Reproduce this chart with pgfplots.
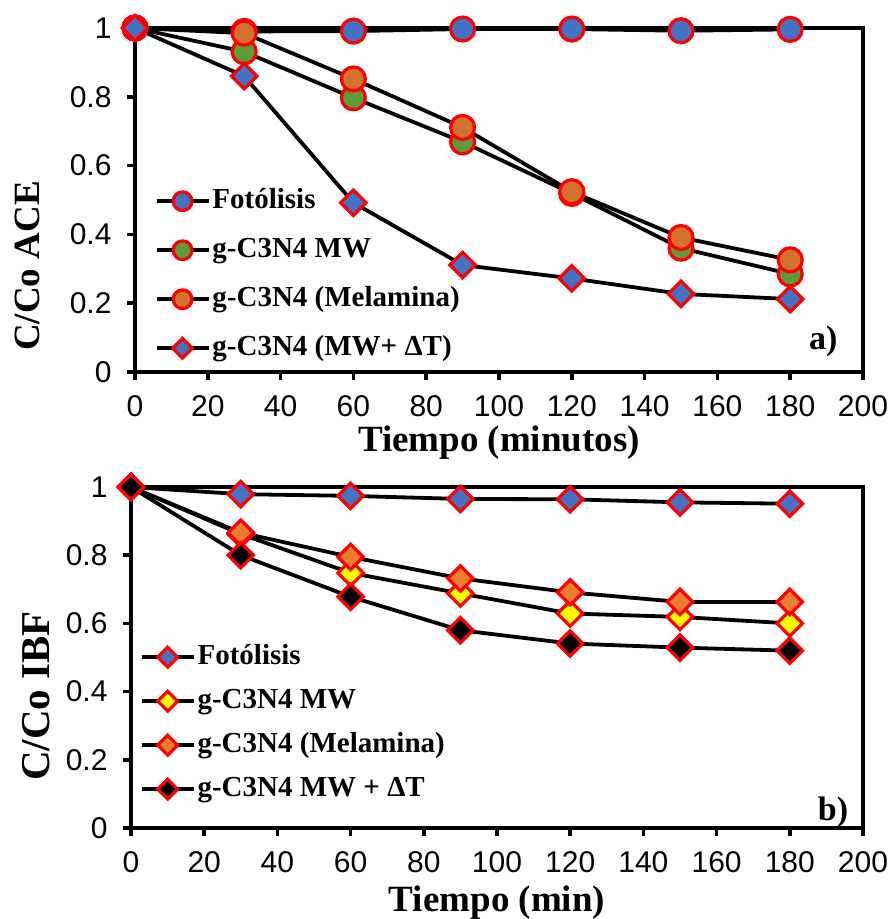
\documentclass[border=0pt]{standalone}
\usepackage{fontspec}
\setmainfont{Liberation Serif}
\newfontfamily\arial{Liberation Sans}
\usepackage{pgfplots}
\pgfplotsset{compat=1.18}

\definecolor{cblue}{HTML}{4472C4}
\definecolor{cgreen}{HTML}{5E9B3A}
\definecolor{corange}{HTML}{D2722E}
\definecolor{corange2}{HTML}{ED7D31}
\definecolor{cyellow}{HTML}{FFFF00}

\pgfplotsset{
 myax/.style={
  scale only axis,
  xmin=0,xmax=200,ymin=0,ymax=1,
  xtick={0,20,40,60,80,100,120,140,160,180,200},
  ytick={0,0.2,0.4,0.6,0.8,1},
  axis line style={line width=3.8pt},
  tick align=outside, tick pos=left,
  major tick length=8pt,
  every tick/.style={black, line width=3.5pt},
  ticklabel style={font=\arial\fontsize{30}{30}\selectfont},
  xticklabel style={yshift=-12pt},
  yticklabel style={xshift=-12pt},
  /pgf/number format/assume math mode=true,
  label style={font=\bfseries\fontsize{37}{37}\selectfont},
  legend style={draw=none, fill=none, inner sep=0pt, outer sep=0pt,
    font=\bfseries\fontsize{29}{29}\selectfont, anchor=north west,
    nodes={text height=20pt, text depth=6pt, inner sep=2pt}},
  legend cell align=left,
  legend image code/.code={\draw[mark repeat=2,mark phase=2,#1,/tikz/every mark/.append style={scale=0.78}] plot coordinates {(0pt,0pt) (26pt,0pt) (52pt,0pt)};},
 },
 ln/.style={black, line width=3.8pt},
 circ/.style={ln, mark=*, mark size=12pt, mark options={draw=red, fill=#1, line width=3.2pt}},
 dia/.style={ln, mark=square*, mark size=9pt, mark options={draw=red, fill=#1, line width=3.2pt, rotate=45}},
}

\begin{document}
\begin{tikzpicture}
\useasboundingbox (-135pt,-547pt) rectangle (756pt,372pt);
\begin{axis}[myax, width=728pt, height=344pt, at={(0pt,0pt)}, anchor=south west,
  xlabel={Tiempo (minutos)}, ylabel={C/Co ACE},
  xlabel style={at={(axis description cs:0.5,0)}, yshift=-71pt, anchor=center},
  ylabel style={at={(axis description cs:-0.148,0.308)}, anchor=center},
  legend style={at={(axis description cs:0.027,0.54)}, row sep=19pt}]
\addplot[circ=cblue] coordinates {(0,1) (30,0.99) (60,0.991) (90,0.997) (120,0.997) (150,0.992) (180,0.996)};
\addlegendentry{Fotólisis}
\addplot[circ=cgreen] coordinates {(0,1) (30,0.931) (60,0.797) (90,0.669) (120,0.519) (150,0.36) (180,0.285)};
\addlegendentry{g-C3N4 MW}
\addplot[circ=corange] coordinates {(0,1) (30,0.985) (60,0.852) (90,0.711) (120,0.524) (150,0.391) (180,0.326)};
\addlegendentry{g-C3N4 (Melamina)}
\addplot[dia=cblue] coordinates {(0,1) (30,0.86) (60,0.492) (90,0.311) (120,0.272) (150,0.227) (180,0.212)};
\addlegendentry{g-C3N4 (MW+ ΔT)}
\node[anchor=base east, font=\bfseries\fontsize{34}{34}\selectfont, inner sep=0pt] at (axis cs:193,0.064) {a)};
\end{axis}
\begin{axis}[myax, width=732pt, height=341pt, at={(-4pt,-456pt)}, anchor=south west,
  xlabel={Tiempo (min)}, ylabel={C/Co IBF},
  xlabel style={at={(axis description cs:0.5,0)}, yshift=-75pt, anchor=center},
  ylabel style={at={(axis description cs:-0.13,0.387)}, anchor=center, font=\bfseries\fontsize{41}{41}\selectfont},
  legend style={at={(axis description cs:0.012,0.545)}, row sep=14pt}]
\addplot[dia=cblue] coordinates {(0,1) (30,0.979) (60,0.974) (90,0.965) (120,0.964) (150,0.955) (180,0.951)};
\addlegendentry{Fotólisis}
\addplot[dia=cyellow] coordinates {(0,1) (30,0.862) (60,0.748) (90,0.688) (120,0.629) (150,0.619) (180,0.6)};
\addlegendentry{g-C3N4 MW}
\addplot[dia=corange2] coordinates {(0,1) (30,0.866) (60,0.795) (90,0.732) (120,0.691) (150,0.663) (180,0.663)};
\addlegendentry{g-C3N4 (Melamina)}
\addplot[dia=black] coordinates {(0,1) (30,0.80) (60,0.678) (90,0.58) (120,0.541) (150,0.529) (180,0.52)};
\addlegendentry{g-C3N4 MW + ΔT}
\node[anchor=base east, font=\bfseries\fontsize{34}{34}\selectfont, inner sep=0pt] at (axis cs:196,0.023) {b)};
\end{axis}
\end{tikzpicture}
\end{document}
